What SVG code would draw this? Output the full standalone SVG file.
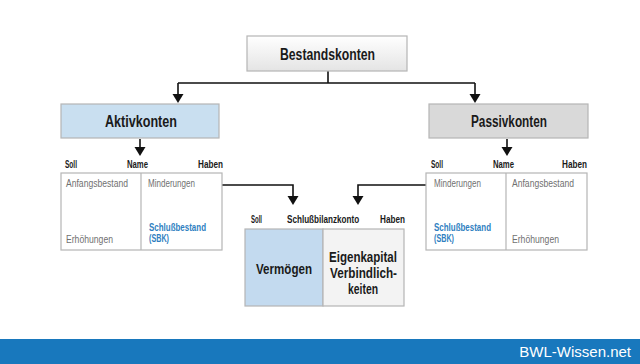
<svg xmlns="http://www.w3.org/2000/svg" width="640" height="364" viewBox="0 0 640 364">
<defs>
<linearGradient id="gTop" x1="0" y1="0" x2="0" y2="1">
<stop offset="0" stop-color="#ffffff"/>
<stop offset="1" stop-color="#e4e4e4"/>
</linearGradient>
<path id="ah" d="M-5.5,-9 L5.5,-9 L0,0 Z" fill="#111"/>
</defs>
<style>
text{font-family:"Liberation Sans",Arial,sans-serif;}
.box{stroke:#b5b5b5;stroke-width:1.2;}
.h1{font-size:16px;font-weight:bold;fill:#1a1a1a;}
.lbl{font-size:11px;font-weight:bold;fill:#1a1a1a;}
.it{font-size:10.5px;fill:#707070;}
.blue{font-size:10.5px;fill:#2f7fc1;font-weight:bold;}
.big{font-size:14px;font-weight:bold;fill:#1a1a1a;}
.con{fill:none;stroke:#111;stroke-width:1.6;}
</style>
<rect x="0" y="0" width="640" height="364" fill="#ffffff"/>
<g id="connectors">
<path class="con" d="M328,71 V83 M178,83 H475 M178,83 V95 M475,83 V95"/>
<use href="#ah" x="178" y="103"/>
<use href="#ah" x="475" y="103"/>
<path class="con" d="M140,139 V148 M507,139 V148"/>
<use href="#ah" x="140" y="156"/>
<use href="#ah" x="507" y="156"/>
<path class="con" d="M222,185 H293 V196 M426,185 H358 V196"/>
<use href="#ah" x="293" y="205"/>
<use href="#ah" x="358" y="205"/>
</g>
<g id="bestandskonten">
<rect class="box" x="247" y="36" width="160" height="35" fill="url(#gTop)"/>
<text class="h1" x="280" y="59.5" textLength="95" lengthAdjust="spacingAndGlyphs">Bestandskonten</text>
</g>
<g id="aktivkonten">
<rect class="box" x="61" y="104" width="158" height="34" fill="#c9dff0"/>
<text class="h1" x="105" y="127" textLength="72" lengthAdjust="spacingAndGlyphs">Aktivkonten</text>
</g>
<g id="passivkonten">
<rect class="box" x="429" y="104" width="159" height="34" fill="#d9d9d9"/>
<text class="h1" x="471" y="127" textLength="76" lengthAdjust="spacingAndGlyphs">Passivkonten</text>
</g>
<g id="aktiv-konto">
<text class="lbl" x="65" y="168" textLength="12" lengthAdjust="spacingAndGlyphs">Soll</text>
<text class="lbl" x="127" y="168" textLength="21" lengthAdjust="spacingAndGlyphs">Name</text>
<text class="lbl" x="198" y="168" textLength="25" lengthAdjust="spacingAndGlyphs">Haben</text>
<rect class="box" x="61" y="173" width="161" height="77" fill="#ffffff"/>
<line class="box" x1="141" y1="173" x2="141" y2="250"/>
<text class="it" x="66" y="187" textLength="62" lengthAdjust="spacingAndGlyphs">Anfangsbestand</text>
<text class="it" x="148" y="187" textLength="47" lengthAdjust="spacingAndGlyphs">Minderungen</text>
<text class="it" x="66" y="243" textLength="47" lengthAdjust="spacingAndGlyphs">Erhöhungen</text>
<text class="blue" x="149" y="231" textLength="57" lengthAdjust="spacingAndGlyphs">Schlußbestand</text>
<text class="blue" x="149" y="242" textLength="20" lengthAdjust="spacingAndGlyphs">(SBK)</text>
</g>
<g id="passiv-konto">
<text class="lbl" x="431" y="168" textLength="12" lengthAdjust="spacingAndGlyphs">Soll</text>
<text class="lbl" x="493" y="168" textLength="21" lengthAdjust="spacingAndGlyphs">Name</text>
<text class="lbl" x="562" y="168" textLength="25" lengthAdjust="spacingAndGlyphs">Haben</text>
<rect class="box" x="426" y="173" width="161" height="77" fill="#ffffff"/>
<line class="box" x1="506" y1="173" x2="506" y2="250"/>
<text class="it" x="434" y="187" textLength="47" lengthAdjust="spacingAndGlyphs">Minderungen</text>
<text class="it" x="512" y="187" textLength="62" lengthAdjust="spacingAndGlyphs">Anfangsbestand</text>
<text class="blue" x="434" y="231" textLength="57" lengthAdjust="spacingAndGlyphs">Schlußbestand</text>
<text class="blue" x="434" y="242" textLength="20" lengthAdjust="spacingAndGlyphs">(SBK)</text>
<text class="it" x="512" y="243" textLength="47" lengthAdjust="spacingAndGlyphs">Erhöhungen</text>
</g>
<g id="schlussbilanzkonto">
<text class="lbl" x="251" y="223" textLength="11" lengthAdjust="spacingAndGlyphs">Soll</text>
<text class="lbl" transform="translate(287,223) scale(0.74,1)" x="0" y="0">Schlußbilanzkonto</text>
<text class="lbl" x="380" y="223" textLength="25" lengthAdjust="spacingAndGlyphs">Haben</text>
<rect x="245" y="229" width="78" height="77" fill="#c3daef" class="box"/>
<rect x="323" y="229" width="81" height="77" fill="#f3f3f3" class="box"/>
<text class="big" x="256" y="274" textLength="56" lengthAdjust="spacingAndGlyphs">Vermögen</text>
<text class="big" x="329" y="262" textLength="68" lengthAdjust="spacingAndGlyphs">Eigenkapital</text>
<text class="big" x="330" y="278" textLength="67" lengthAdjust="spacingAndGlyphs">Verbindlich-</text>
<text class="big" x="348" y="294" textLength="30" lengthAdjust="spacingAndGlyphs">keiten</text>
</g>
<g id="footer">
<rect x="0" y="339" width="640" height="25" fill="#1878bd"/>
<text x="631" y="357" text-anchor="end" style="font-size:15px;fill:#ffffff">BWL-Wissen.net</text>
</g>
</svg>
